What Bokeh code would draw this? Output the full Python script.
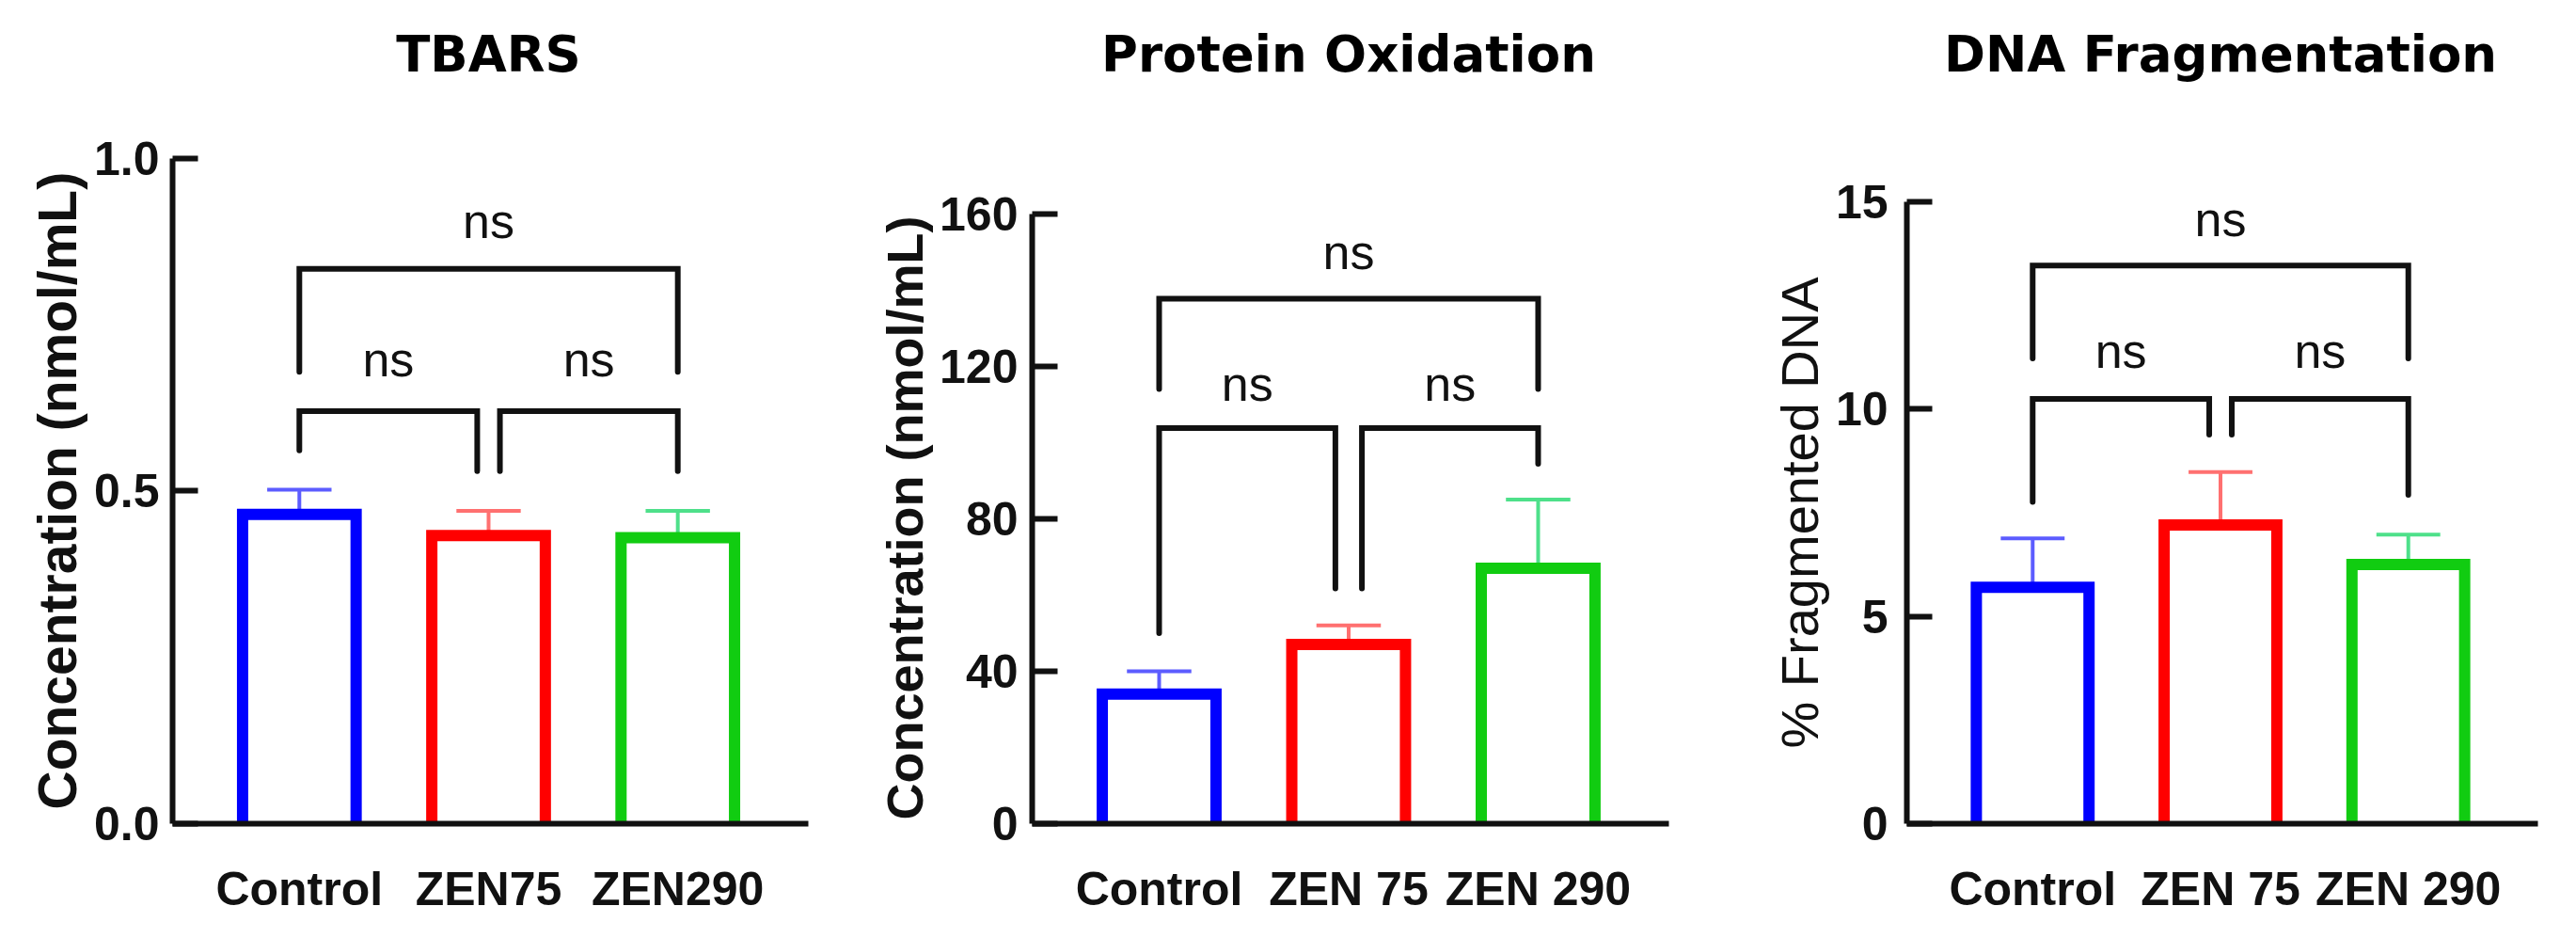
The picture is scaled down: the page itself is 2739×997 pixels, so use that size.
import numpy as np
from bokeh.plotting import figure
from bokeh.layouts import row
from bokeh.models import Range1d, FixedTicker, Title
from bokeh.embed import file_html
from bokeh.resources import INLINE
from bokeh.core.properties import value

# ---------------- data ----------------
tbars_groups = ["Control", "ZEN75", "ZEN290"]
tbars_mean = [0.465, 0.433, 0.430]
tbars_sem = [0.037, 0.037, 0.040]
tbars_ticks = [0.0, 0.5, 1.0]
tbars_tick_labels = ["0.0", "0.5", "1.0"]
# brackets: left x, right x, bar height, left leg end, right leg end, label y
tbars_br_x0 = [0.0, 0.0, 1.06]
tbars_br_x1 = [2.0, 0.94, 2.0]
tbars_br_y = [0.834, 0.62, 0.62]
tbars_br_y0 = [0.679, 0.561, 0.53]
tbars_br_y1 = [0.679, 0.53, 0.53]
tbars_ns_y = [0.906, 0.698, 0.698]

prot_groups = ["Control", "ZEN 75", "ZEN 290"]
prot_mean = [34.0, 47.0, 67.0]
prot_sem = [6.0, 5.0, 18.0]
prot_ticks = [0, 40, 80, 120, 160]
prot_tick_labels = ["0", "40", "80", "120", "160"]
prot_br_x0 = [0.0, 0.0, 1.07]
prot_br_x1 = [2.0, 0.93, 2.0]
prot_br_y = [137.7, 103.8, 103.8]
prot_br_y0 = [114.0, 50.0, 61.7]
prot_br_y1 = [114.0, 61.7, 94.4]
prot_ns_y = [149.9, 115.5, 115.5]

dna_groups = ["Control", "ZEN 75", "ZEN 290"]
dna_mean = [5.7, 7.2, 6.25]
dna_sem = [1.18, 1.28, 0.72]
dna_ticks = [0, 5, 10, 15]
dna_tick_labels = ["0", "5", "10", "15"]
dna_br_x0 = [0.0, 0.0, 1.06]
dna_br_x1 = [2.0, 0.94, 2.0]
dna_br_y = [13.46, 10.24, 10.24]
dna_br_y0 = [11.22, 7.76, 9.38]
dna_br_y1 = [11.22, 9.38, 7.93]
dna_ns_y = [14.57, 11.39, 11.39]

bar_colors = ["#0000ff", "#ff0000", "#11cc11"]
err_colors = ["#5c5cff", "#ff7070", "#4ee08a"]

FONT_NAME = "Liberation Sans"
FONT = value(FONT_NAME)
TITLE_FONT = "DejaVu Sans"
H = 975
PAGE = 8            # page margin
FRAME_BOTTOM = 884  # page y of the (shared) frame bottom = x axis
TITLE_Y = 65        # page y of title centre
BAR_W = 0.60
CAP_W = 0.34


def make_panel(title, groups, means, sems, ticks, tick_labels,
               bx0, bx1, by, by0, by1, ns_y, ylabel, ylabel_size, ylabel_style,
               ylabel_offset, width, left, right, top_px,
               tick_standoff, label_standoff, cat_standoff):
    xpos = list(range(len(groups)))
    top_val = ticks[-1]
    ppu = (FRAME_BOTTOM - top_px) / top_val
    y1 = (FRAME_BOTTOM - PAGE) / ppu
    p = figure(width=width, height=H, output_backend="svg", toolbar_location=None,
               x_range=Range1d(-0.67, 2.69), y_range=Range1d(0, y1),
               min_border_left=left, min_border_right=right,
               min_border_top=0, min_border_bottom=H - (FRAME_BOTTOM - PAGE),
               outline_line_color=None, background_fill_color="white",
               border_fill_color="white")
    p.xgrid.visible = False
    p.ygrid.visible = False

    # error bars (upper only)
    for i, c in enumerate(xpos):
        top = means[i] + sems[i]
        p.segment(x0=[c], y0=[means[i]], x1=[c], y1=[top],
                  line_color=err_colors[i], line_width=4)
        p.segment(x0=[c - CAP_W / 2], y0=[top], x1=[c + CAP_W / 2], y1=[top],
                  line_color=err_colors[i], line_width=4)
    # bars as open outlines
    for i, c in enumerate(xpos):
        xl, xr = c - BAR_W / 2, c + BAR_W / 2
        p.multi_line(xs=[[xl, xl, xr, xr]], ys=[[0, means[i], means[i], 0]],
                     line_color=bar_colors[i], line_width=12, line_join="miter")
    # significance brackets
    xs = [[a, a, b, b] for a, b in zip(bx0, bx1)]
    ys = [[l, m, m, r] for l, m, r in zip(by0, by, by1)]
    p.multi_line(xs=xs, ys=ys, line_color="#111111", line_width=6,
                 line_join="miter", line_cap="round")
    p.text(x=[(a + b) / 2 for a, b in zip(bx0, bx1)], y=ns_y,
           text=["ns"] * len(ns_y), text_align="center", text_baseline="middle",
           text_font=FONT, text_font_size="52px", text_color="#111111")
    # panel title
    p.text(x=[float(np.mean(xpos))], y=[(FRAME_BOTTOM - TITLE_Y) / ppu],
           text=[title], text_align="center", text_baseline="middle",
           text_font=value(TITLE_FONT), text_font_style="bold", text_font_size="53px",
           text_color="#000000")
    # y-axis title (side title so that it can be centred on the axis extent)
    p.add_layout(Title(text=ylabel, align="left", offset=ylabel_offset,
                       standoff=label_standoff, text_font=FONT_NAME,
                       text_font_style=ylabel_style, text_font_size=ylabel_size,
                       text_color="#111111"), "left")

    # y axis
    ya = p.yaxis[0]
    ya.ticker = FixedTicker(ticks=ticks)
    ya.major_label_overrides = {t: l for t, l in zip(ticks, tick_labels)}
    ya.bounds = (0, top_val)
    ya.axis_line_width = 6
    ya.axis_line_color = "#111111"
    ya.major_tick_line_width = 6
    ya.major_tick_line_color = "#111111"
    ya.major_tick_in = 27
    ya.major_tick_out = 0
    ya.minor_tick_line_color = None
    ya.major_label_text_font = FONT_NAME
    ya.major_label_text_font_style = "bold"
    ya.major_label_text_font_size = "50px"
    ya.major_label_text_color = "#111111"
    ya.major_label_standoff = tick_standoff

    # x axis
    xa = p.xaxis[0]
    xa.ticker = FixedTicker(ticks=xpos)
    xa.major_label_overrides = {c: g for c, g in zip(xpos, groups)}
    xa.axis_line_width = 6
    xa.axis_line_color = "#111111"
    xa.major_tick_line_color = None
    xa.major_tick_in = 0
    xa.major_tick_out = 0
    xa.minor_tick_line_color = None
    xa.major_label_text_font = FONT_NAME
    xa.major_label_text_font_style = "bold"
    xa.major_label_text_font_size = "50px"
    xa.major_label_text_color = "#111111"
    xa.major_label_standoff = cat_standoff
    return p


p1 = make_panel("TBARS", tbars_groups, tbars_mean, tbars_sem, tbars_ticks, tbars_tick_labels,
                tbars_br_x0, tbars_br_x1, tbars_br_y, tbars_br_y0, tbars_br_y1, tbars_ns_y,
                "Concentration (nmol/mL)", "57px", "bold", 15,
                width=900, left=183, right=41, top_px=176,
                tick_standoff=14, label_standoff=8, cat_standoff=41)
p2 = make_panel("Protein Oxidation", prot_groups, prot_mean, prot_sem, prot_ticks, prot_tick_labels,
                prot_br_x0, prot_br_x1, prot_br_y, prot_br_y0, prot_br_y1, prot_ns_y,
                "Concentration (nmol/mL)", "54px", "bold", 4,
                width=900, left=197, right=26, top_px=235,
                tick_standoff=15, label_standoff=9, cat_standoff=41)
p3 = make_panel("DNA Fragmentation", dna_groups, dna_mean, dna_sem, dna_ticks, dna_tick_labels,
                dna_br_x0, dna_br_x1, dna_br_y, dna_br_y0, dna_br_y1, dna_ns_y,
                "% Fragmented DNA", "56px", "normal", 80,
                width=920, left=227, right=22, top_px=222,
                tick_standoff=20, label_standoff=7, cat_standoff=41)

layout = row(p1, p2, p3)
open("out.html", "w").write(file_html(layout, INLINE))
